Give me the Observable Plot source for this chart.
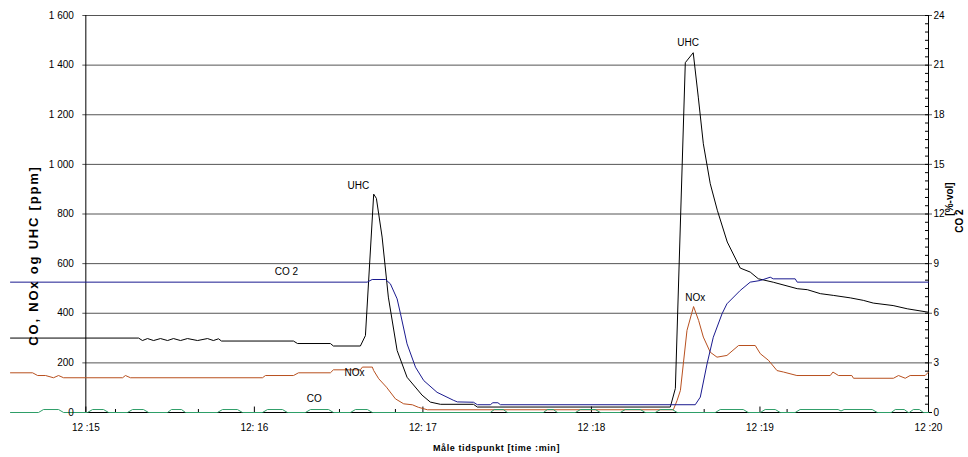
<!DOCTYPE html>
<html><head><meta charset="utf-8">
<script src="https://cdn.jsdelivr.net/npm/d3@7"></script>
<script src="https://cdn.jsdelivr.net/npm/@observablehq/plot@0.6"></script>
<style>
body{margin:0;background:#fff;}
#chart svg{display:block;}
</style></head><body><div id="chart"></div>
<script>
// time in minutes after 12:00
const uhcTime = [14.553,15.313,15.336,15.366,15.402,15.443,15.485,15.520,15.562,15.603,15.663,15.722,15.757,15.787,15.805,16.232,16.256,16.451,16.469,16.629,16.659,16.708,16.724,16.758,16.795,16.847,16.906,16.995,17.044,17.104,17.300,17.323,18.468,18.498,18.557,18.604,18.634,18.664,18.705,18.747,18.806,18.883,18.942,18.990,19.079,19.221,19.281,19.358,19.435,19.536,19.613,19.672,19.790,19.874,20.0];
const uhcValue = [300,300,290,298,290,298,290,298,290,298,290,298,290,297,288,288,278,278,268,268,310,880,863,707,465,250,142,70,42,33,33,22,22,97,1410,1450,1271,1083,922,815,687,582,566,539,525,499,495,479,472,462,452,441,431,418,404];

const noxTime = [14.553,14.684,14.714,14.761,14.808,14.838,14.868,15.218,15.235,15.265,16.048,16.066,16.232,16.262,16.451,16.469,16.629,16.641,16.700,16.708,16.738,16.784,16.837,16.886,16.938,16.973,17.027,18.486,18.508,18.528,18.567,18.606,18.636,18.664,18.705,18.745,18.804,18.873,18.972,19.002,19.051,19.101,19.140,19.219,19.417,19.433,19.466,19.545,19.555,19.792,19.822,19.862,19.891,19.980,20.0];
const noxValue = [160,160,149,149,140,149,140,140,149,140,140,149,149,160,160,172,172,183,183,169,136,102,55,35,31,21,11,11,48,89,331,427,371,304,243,223,230,270,270,237,210,169,163,149,149,163,149,149,138,138,149,138,149,149,163];

// CO2 in %-vol (right axis)
const co2Time = [14.553,16.669,16.699,16.778,16.807,16.847,16.867,16.906,16.956,17.005,17.084,17.183,17.205,17.300,17.323,17.400,17.415,17.445,17.460,18.616,18.646,18.686,18.723,18.775,18.804,18.883,18.942,19.002,19.061,19.079,19.209,19.221,20.0];
const co2Value = [7.88,7.88,8.04,8.04,7.78,6.87,5.97,4.15,2.74,1.93,1.22,0.73,0.64,0.62,0.47,0.47,0.59,0.59,0.47,0.47,0.93,2.94,4.55,5.97,6.57,7.38,7.88,7.98,8.18,8.08,8.08,7.88,7.88];

const coTime = [14.553,14.719,14.749,14.838,14.868,15.010,15.040,15.105,15.135,15.247,15.277,15.342,15.372,15.485,15.508,15.568,15.591,15.781,15.811,15.900,15.929,16.048,16.078,16.167,16.196,16.303,16.333,16.440,16.469,16.570,16.600,16.671,16.700,17.400,17.424,17.477,17.501,17.715,17.739,17.774,17.798,17.905,17.935,18.023,18.053,18.171,18.201,18.290,18.319,18.379,18.409,18.480,18.509,18.735,18.764,18.901,18.930,19.002,19.031,19.091,19.120,19.209,19.238,19.464,19.481,19.499,19.666,19.696,19.779,19.803,19.856,19.880,19.886,19.910,19.946,19.969,20.0];
const coValue = [0,0,12,12,0,0,12,12,0,0,12,12,0,0,12,12,0,0,12,12,0,0,12,12,0,0,12,12,0,0,12,12,0,0,12,12,0,0,12,12,0,0,12,12,0,0,12,12,0,0,12,12,0,0,12,12,0,0,12,12,0,0,12,12,6,12,12,0,0,12,12,0,0,12,12,0,0];

const leftTicks = [0,200,400,600,800,1000,1200,1400,1600];
const leftTickLabels = ["0","200","400","600","800","1 000","1 200","1 400","1 600"];
const rightTicks = [0,3,6,9,12,15,18,21,24];
const rightMinor = d3.range(0, 24.01, 0.5);
const xTicks = [15,16,17,18,19,20];
const xTickLabels = ["12 :15","12: 16","12: 17","12 :18","12 :19","12 :20"];
const xMinor = [15.176,15.668,16.505,16.837,18.669,19.161];

const annoText = ["UHC","UHC","NOx","NOx","CO 2","CO"];
const annoTime = [16.617,18.574,16.594,18.616,16.190,16.356];
const annoValue = [915,1488,161,464,569,56];

const rows = (t, v, f = d => d) => t.map((d, i) => ({t: d, v: f(v[i])}));
const co2ToLeft = p => p * 1600 / 24;

const font = "Liberation Sans, Arial, Helvetica, sans-serif";

const chart = Plot.plot({
  width: 968, height: 457,
  marginLeft: 10, marginRight: 40, marginTop: 15, marginBottom: 45,
  x: {type: "linear", domain: [uhcTime[0], 20], axis: null},
  y: {domain: [0, 1600], axis: null},
  style: {fontFamily: font, fontSize: "10px", background: "#fff", color: "#000"},
  marks: [
    Plot.ruleY(leftTicks.filter(d => d > 0), {y: d => d, x1: () => 15, x2: () => 20, stroke: "#555", strokeWidth: 1, insetLeft: -3, insetRight: -4}),
    Plot.ruleY(rightMinor, {y: d => co2ToLeft(d), x1: () => 20, x2: () => 20, insetLeft: -3, stroke: "#000"}),
    Plot.ruleX([15], {x: d => d, y1: () => 0, y2: () => 1600, stroke: "#000"}),
    Plot.ruleX([20], {x: d => d, y1: () => 0, y2: () => 1600, stroke: "#000"}),
    Plot.ruleY([0], {y: d => d, x1: () => 15, x2: () => 20, stroke: "#000", insetLeft: -3, insetRight: -4}),
    Plot.ruleX(xTicks, {x: d => d, y1: () => -4, y2: () => 22, stroke: "#000"}),
    Plot.ruleX(xMinor, {x: d => d, y1: () => 0, y2: () => 12, stroke: "#000"}),
    Plot.line(rows(noxTime, noxValue), {x: "t", y: "v", stroke: "#b8501f", strokeWidth: 1}),
    Plot.line(rows(uhcTime, uhcValue), {x: "t", y: "v", stroke: "#000", strokeWidth: 1}),
    Plot.line(rows(co2Time, co2Value, co2ToLeft), {x: "t", y: "v", stroke: "#1a1a8f", strokeWidth: 1}),
    Plot.line(rows(coTime, coValue), {x: "t", y: "v", stroke: "#2e9e68", strokeWidth: 1}),
    Plot.text(leftTicks, {x: () => 15, y: d => d, text: (d, i) => leftTickLabels[i], textAnchor: "end", dx: -12, fontSize: 10}),
    Plot.text(rightTicks, {x: () => 20, y: d => co2ToLeft(d), text: d => String(d), textAnchor: "start", dx: 5, fontSize: 10}),
    Plot.text(xTicks, {x: d => d, y: () => 0, text: (d, i) => xTickLabels[i], dy: 15, fontSize: 10}),
    Plot.text(annoText, {x: (d, i) => annoTime[i], y: (d, i) => annoValue[i], text: d => d, fontSize: 10}),
    Plot.text(["CO, NOx og UHC [ppm]"], {frameAnchor: "left", text: d => d, rotate: -90, textAnchor: "middle", lineAnchor: "middle", dx: 23, dy: 41.5, fontWeight: "bold", fontSize: 13}),
    Plot.text(["CO 2"], {frameAnchor: "right", text: d => d, rotate: -90, textAnchor: "middle", lineAnchor: "middle", dx: 31, dy: 7, fontWeight: "bold", fontSize: 10}),
    Plot.text(["[%-vol]"], {frameAnchor: "right", text: d => d, rotate: -90, textAnchor: "middle", lineAnchor: "middle", dx: 21, dy: -15, fontWeight: "bold", fontSize: 10}),
    Plot.text(["Måle tidspunkt [time :min]"], {frameAnchor: "bottom", text: d => d, textAnchor: "middle", lineAnchor: "middle", dx: 27, dy: 36, fontWeight: "bold", fontSize: 9})
  ]
});
d3.select(chart).selectAll("text")
  .filter(function() { return this.textContent === "CO, NOx og UHC [ppm]"; })
  .attr("letter-spacing", "1.8px");
d3.select(chart).selectAll("text")
  .filter(function() { return this.textContent === "Måle tidspunkt [time :min]"; })
  .attr("letter-spacing", "0.6px");
document.getElementById("chart").appendChild(chart);
</script></body></html>
